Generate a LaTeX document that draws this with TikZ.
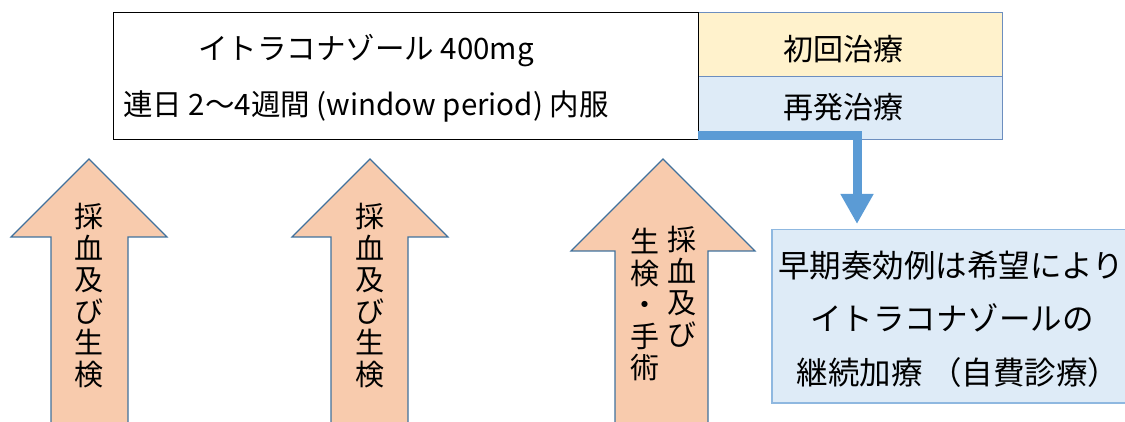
\documentclass[tikz,border=0pt]{standalone}
\usepackage{fontspec}
\setmainfont{Noto Sans CJK JP}
\usetikzlibrary{arrows.meta}
\definecolor{peach}{HTML}{F8CBAD}
\definecolor{arrowline}{HTML}{41719C}
\definecolor{boxline}{HTML}{6C8EBF}
\definecolor{yellowfill}{HTML}{FFF2CC}
\definecolor{bluefill}{HTML}{DEEBF7}
\definecolor{conn}{HTML}{5B9BD5}
\definecolor{lightline}{HTML}{8FB8E0}
\tikzset{
  bigtext/.style={font=\fontsize{29.5}{34}\selectfont, inner sep=0pt},
  boxtext/.style={font=\fontsize{30}{34}\selectfont, inner sep=0pt},
  conttext/.style={font=\fontsize{31.5}{36}\selectfont, inner sep=0pt},
  vtext/.style={font=\fontsize{29}{31.5}\selectfont, align=center, inner sep=0pt},
  uparrow/.style={fill=peach, draw=arrowline, line width=1.1pt, line join=miter},
  flowline/.style={draw=conn, line width=9pt, -{Triangle[width=31pt,length=30pt]}},
}
\begin{document}
\begin{tikzpicture}[x=1pt,y=-1pt]
\useasboundingbox (0,0) rectangle (1125,422);
\clip (0,0) rectangle (1125,422);
% top boxes
\node[draw=boxline, fill=yellowfill, line width=1.1pt, minimum width=304pt, minimum height=64pt, anchor=north west, inner sep=0pt] (first) at (698,12) {};
\node[draw=boxline, fill=bluefill, line width=1.1pt, minimum width=304pt, minimum height=63pt, anchor=north west, inner sep=0pt] (relapse) at (698,76) {};
\node[draw=black, line width=1.1pt, minimum width=585pt, minimum height=127pt, anchor=north west, inner sep=0pt] (main) at (113,12) {};
\node[bigtext] (mainA) at (366,51) {イトラコナゾール 400mg};
\node[bigtext] (mainB) at (366,106) {連日 2～4週間 (window period) 内服};
\node[boxtext] (firstT) at (843,49) {初回治療};
\node[boxtext] (relapseT) at (843,107) {再発治療};
% bottom-right box
\node[draw=lightline, fill=bluefill, line width=1.5pt, minimum width=356pt, minimum height=173pt, anchor=north west, inner sep=0pt] (cont) at (771,229) {};
\node[conttext] (contA) at (951,266) {早期奏効例は希望により};
\node[conttext] (contB) at (952,318) {イトラコナゾールの};
\node[conttext] (contC) at (958,373) {継続加療 （自費診療）};
% connector
\coordinate (c0) at (698,135.5);
\coordinate (c1) at (857,135.5);
\coordinate (c2) at (857,224);
\draw[flowline] (c0) -- (c1) -- (c2);
% up arrows
\draw[uparrow] (51,430) -- (51,237) -- (11,237) -- (89,159) -- (167,237) -- (128,237) -- (128,430) -- cycle;
\draw[uparrow] (331,430) -- (331,237) -- (292,237) -- (370,159) -- (448,237) -- (408,237) -- (408,430) -- cycle;
\draw[uparrow] (615,430) -- (615,251) -- (571,251) -- (663,159) -- (755,251) -- (708,251) -- (708,430) -- cycle;
\node[vtext, anchor=north] (t1) at (89,203) {採\\血\\及\\び\\生\\検};
\node[vtext, anchor=north] (t2) at (370,203) {採\\血\\及\\び\\生\\検};
\node[vtext, anchor=north] (t3a) at (682,226) {採\\血\\及\\び};
\node[vtext, anchor=north] (t3b) at (645,228) {生\\検\\・\\手\\術};
\end{tikzpicture}
\end{document}
